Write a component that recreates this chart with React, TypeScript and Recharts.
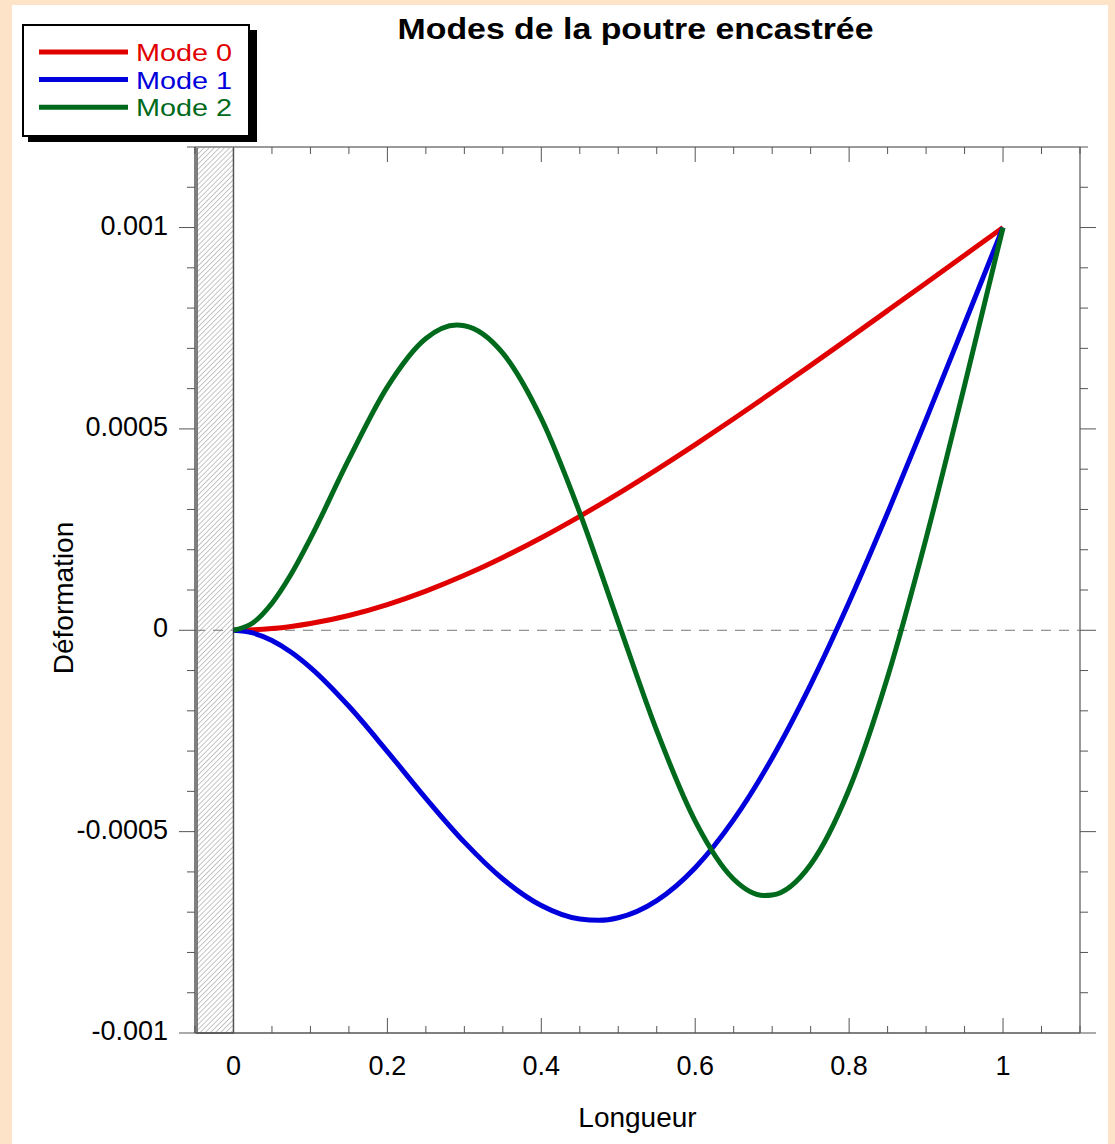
import React from "react";
import {
  Line,
  LineChart,
  ReferenceArea,
  ReferenceLine,
  XAxis,
  YAxis,
} from "recharts";

const FONT = '"Liberation Sans", Arial, Helvetica, sans-serif';

// abscissa along the beam, per mode (extra points near the turning points)
const X_MODE_0 = [
  0, 0.025, 0.05, 0.075, 0.1, 0.15, 0.2, 0.25, 0.3, 0.35, 0.4, 0.45, 0.5, 0.55,
  0.6, 0.65, 0.7, 0.75, 0.8, 0.85, 0.9, 0.95, 1,
];
const X_MODE_1 = [
  0, 0.025, 0.05, 0.075, 0.1, 0.15, 0.2, 0.25, 0.3, 0.35, 0.4, 0.45, 0.475, 0.5,
  0.55, 0.6, 0.65, 0.7, 0.75, 0.8, 0.85, 0.9, 0.95, 1,
];
const X_MODE_2 = [
  0, 0.025, 0.05, 0.075, 0.1, 0.15, 0.2, 0.25, 0.29, 0.3, 0.35, 0.4, 0.45, 0.5,
  0.55, 0.6, 0.65, 0.69, 0.7, 0.75, 0.8, 0.85, 0.9, 0.95, 1,
];

// deflection
const MODE_0 = [
  0, 0.0000011, 0.0000043, 0.0000095, 0.0000168, 0.0000368, 0.0000639,
  0.0000973, 0.0001365, 0.0001809, 0.0002299, 0.000283, 0.0003395, 0.0003991,
  0.0004611, 0.0005252, 0.0005909, 0.0006578, 0.0007255, 0.0007938, 0.0008624,
  0.0009312, 0.001,
];
const MODE_1 = [
  0, -0.0000066, -0.0000254, -0.0000546, -0.0000926, -0.0001888, -0.0003011,
  -0.0004173, -0.0005261, -0.0006177, -0.0006835, -0.000717, -0.0007201,
  -0.0007137, -0.0006712, -0.0005895, -0.0004702, -0.0003171, -0.000135,
  0.00007, 0.0002916, 0.0005237, 0.0007611, 0.001,
];
const MODE_2 = [
  0, 0.000018, 0.000067, 0.0001395, 0.0002281, 0.0004248, 0.0006045, 0.0007245,
  0.0007578, 0.0007562, 0.0006881, 0.0005259, 0.0002917, 0.0000197, -0.0002493,
  -0.0004738, -0.0006181, -0.0006587, -0.0006575, -0.0005815, -0.0003949,
  -0.0001159, 0.0002284, 0.0006083, 0.001,
];

const X_TICKS = [
  -0.05, 0, 0.05, 0.1, 0.15, 0.2, 0.25, 0.3, 0.35, 0.4, 0.45, 0.5, 0.55, 0.6,
  0.65, 0.7, 0.75, 0.8, 0.85, 0.9, 0.95, 1, 1.05, 1.1,
];
const X_LABELS = [0, 0.2, 0.4, 0.6, 0.8, 1];
const Y_TICKS = [
  -0.001, -0.0009, -0.0008, -0.0007, -0.0006, -0.0005, -0.0004, -0.0003,
  -0.0002, -0.0001, 0, 0.0001, 0.0002, 0.0003, 0.0004, 0.0005, 0.0006, 0.0007,
  0.0008, 0.0009, 0.001, 0.0011, 0.0012,
];
const Y_LABELS = [-0.001, -0.0005, 0, 0.0005, 0.001];

const toRows = (xs: number[], ys: number[]) =>
  xs.map((x, i) => ({ x, y: ys[i] }));

const SERIES = [
  { key: "mode0", name: "Mode 0", color: "#e00000", data: toRows(X_MODE_0, MODE_0) },
  { key: "mode1", name: "Mode 1", color: "#0000dc", data: toRows(X_MODE_1, MODE_1) },
  { key: "mode2", name: "Mode 2", color: "#006a1c", data: toRows(X_MODE_2, MODE_2) },
];

const isIn = (v: number, list: number[]) =>
  list.some((l) => Math.abs(l - v) < 1e-9);

const TICK_COLOR = "#555";

const BottomTick = (props: any) => {
  const { x, y, payload } = props;
  const major = isIn(payload.value, X_LABELS);
  return (
    <g>
      <line x1={x} y1={y} x2={x} y2={y - (major ? 15 : 7)} stroke={TICK_COLOR} />
      {major && (
        <text x={x} y={y + 42} textAnchor="middle" fontSize={27} fontFamily={FONT} fill="#000">
          {String(payload.value)}
        </text>
      )}
    </g>
  );
};

const TopTick = (props: any) => {
  const { x, y, payload } = props;
  const major = isIn(payload.value, X_LABELS);
  return <line x1={x} y1={y} x2={x} y2={y + (major ? 15 : 7)} stroke={TICK_COLOR} />;
};

const LeftTick = (props: any) => {
  const { x, y, payload } = props;
  const major = isIn(payload.value, Y_LABELS);
  return (
    <g>
      <line x1={x} y1={y} x2={x - (major ? 16 : 8)} y2={y} stroke={TICK_COLOR} />
      {major && (
        <text x={x - 27} y={y + 7} textAnchor="end" fontSize={27} fontFamily={FONT} fill="#000">
          {String(payload.value)}
        </text>
      )}
    </g>
  );
};

const RightTick = (props: any) => {
  const { x, y, payload } = props;
  const major = isIn(payload.value, Y_LABELS);
  return <line x1={x} y1={y} x2={x + (major ? 16 : 8)} y2={y} stroke={TICK_COLOR} />;
};

// clamped end of the beam
const Wall = (props: any) => {
  const { x, y, width, height } = props;
  return (
    <g>
      <defs>
        <pattern id="hatch" width={3.6} height={3.6} patternUnits="userSpaceOnUse" patternTransform="rotate(45)">
          <line x1={0} y1={0} x2={0} y2={3.6} stroke="#8a8a8a" strokeWidth={1} />
        </pattern>
      </defs>
      <rect x={x + 2} y={y} width={width - 2} height={height} fill="url(#hatch)" stroke="#555" strokeWidth={1.5} />
    </g>
  );
};

const renderTitle = (props: any) => {
  const vb = props.viewBox;
  return (
    <text
      x={vb.x + vb.width / 2 - 2}
      y={39}
      textAnchor="middle"
      fontSize={29}
      fontWeight="bold"
      fontFamily={FONT}
      fill="#000"
      textLength={476}
      lengthAdjust="spacingAndGlyphs"
    >
      Modes de la poutre encastrée
    </text>
  );
};

const renderXLabel = (props: any) => {
  const vb = props.viewBox;
  return (
    <text x={vb.x + vb.width / 2} y={vb.y + 94} textAnchor="middle" fontSize={28} fontFamily={FONT} fill="#000">
      Longueur
    </text>
  );
};

const renderYLabel = (props: any) => {
  const vb = props.viewBox;
  const cy = vb.y + vb.height / 2 + 8;
  return (
    <text
      x={73}
      y={cy}
      transform={`rotate(-90 73 ${cy})`}
      textAnchor="middle"
      fontSize={28}
      fontFamily={FONT}
      fill="#000"
    >
      Déformation
    </text>
  );
};

const ROW = 27.6;

const ModesLegend = () => (
  <svg width={270} height={150} style={{ position: "absolute", left: 0, top: 0 }}>
    <rect x={28} y={30} width={229} height={112} fill="#000" />
    <rect x={23} y={25} width={226} height={111} fill="#fff" stroke="#000" strokeWidth={2} />
    {SERIES.map((s, i) => (
      <g key={s.key}>
        <line x1={39} x2={128} y1={52 + i * ROW} y2={52 + i * ROW} stroke={s.color} strokeWidth={5} />
        <text
          x={136}
          y={61 + i * ROW}
          fontSize={24}
          fontFamily={FONT}
          fill={s.color}
          textLength={96}
          lengthAdjust="spacingAndGlyphs"
        >
          {s.name}
        </text>
      </g>
    ))}
  </svg>
);

export default function App() {
  return (
    <div style={{ position: "relative", width: 1115, height: 1144, background: "#fde3c8", overflow: "hidden" }}>
      <style>{"body{margin:0}"}</style>
      <div style={{ position: "absolute", left: 12, top: 5, width: 1096, height: 1139, background: "#fff" }} />
      <div style={{ position: "absolute", left: 0, top: 0 }}>
        <LineChart width={1115} height={1144} margin={{ top: 0, right: 0, bottom: 0, left: 0 }}>
          <XAxis
            dataKey="x"
            type="number"
            domain={[-0.05, 1.1]}
            ticks={X_TICKS}
            interval={0}
            allowDataOverflow
            allowDuplicatedCategory={false}
            height={111}
            tickLine={false}
            tickSize={0}
            tickMargin={0}
            tick={BottomTick}
            axisLine={{ stroke: "#555", strokeWidth: 1.5 }}
            label={renderXLabel}
          />
          <XAxis
            xAxisId="top"
            orientation="top"
            dataKey="x"
            type="number"
            domain={[-0.05, 1.1]}
            ticks={X_TICKS}
            interval={0}
            allowDataOverflow
            height={147}
            tickLine={false}
            tickSize={0}
            tickMargin={0}
            tick={TopTick}
            axisLine={{ stroke: "#9a9a9a", strokeWidth: 2 }}
            label={renderTitle}
          />
          <YAxis
            type="number"
            domain={[-0.001, 0.0012]}
            ticks={Y_TICKS}
            interval={0}
            allowDataOverflow
            width={195}
            tickLine={false}
            tickSize={0}
            tickMargin={0}
            tick={LeftTick}
            axisLine={{ stroke: "#555", strokeWidth: 1.5 }}
            label={renderYLabel}
          />
          <YAxis
            yAxisId="right"
            orientation="right"
            type="number"
            domain={[-0.001, 0.0012]}
            ticks={Y_TICKS}
            interval={0}
            allowDataOverflow
            width={35}
            tickLine={false}
            tickSize={0}
            tickMargin={0}
            tick={RightTick}
            axisLine={{ stroke: "#777", strokeWidth: 1.5 }}
          />
          <ReferenceArea x1={-0.05} x2={0} shape={Wall} ifOverflow="visible" />
          <ReferenceLine y={0} stroke="#777" strokeWidth={1} strokeDasharray="10 8" />
          {SERIES.map((s) => (
            <Line
              key={s.key}
              data={s.data}
              type="monotone"
              dataKey="y"
              name={s.name}
              stroke={s.color}
              strokeWidth={5}
              dot={false}
              isAnimationActive={false}
            />
          ))}
        </LineChart>
      </div>
      <ModesLegend />
    </div>
  );
}
